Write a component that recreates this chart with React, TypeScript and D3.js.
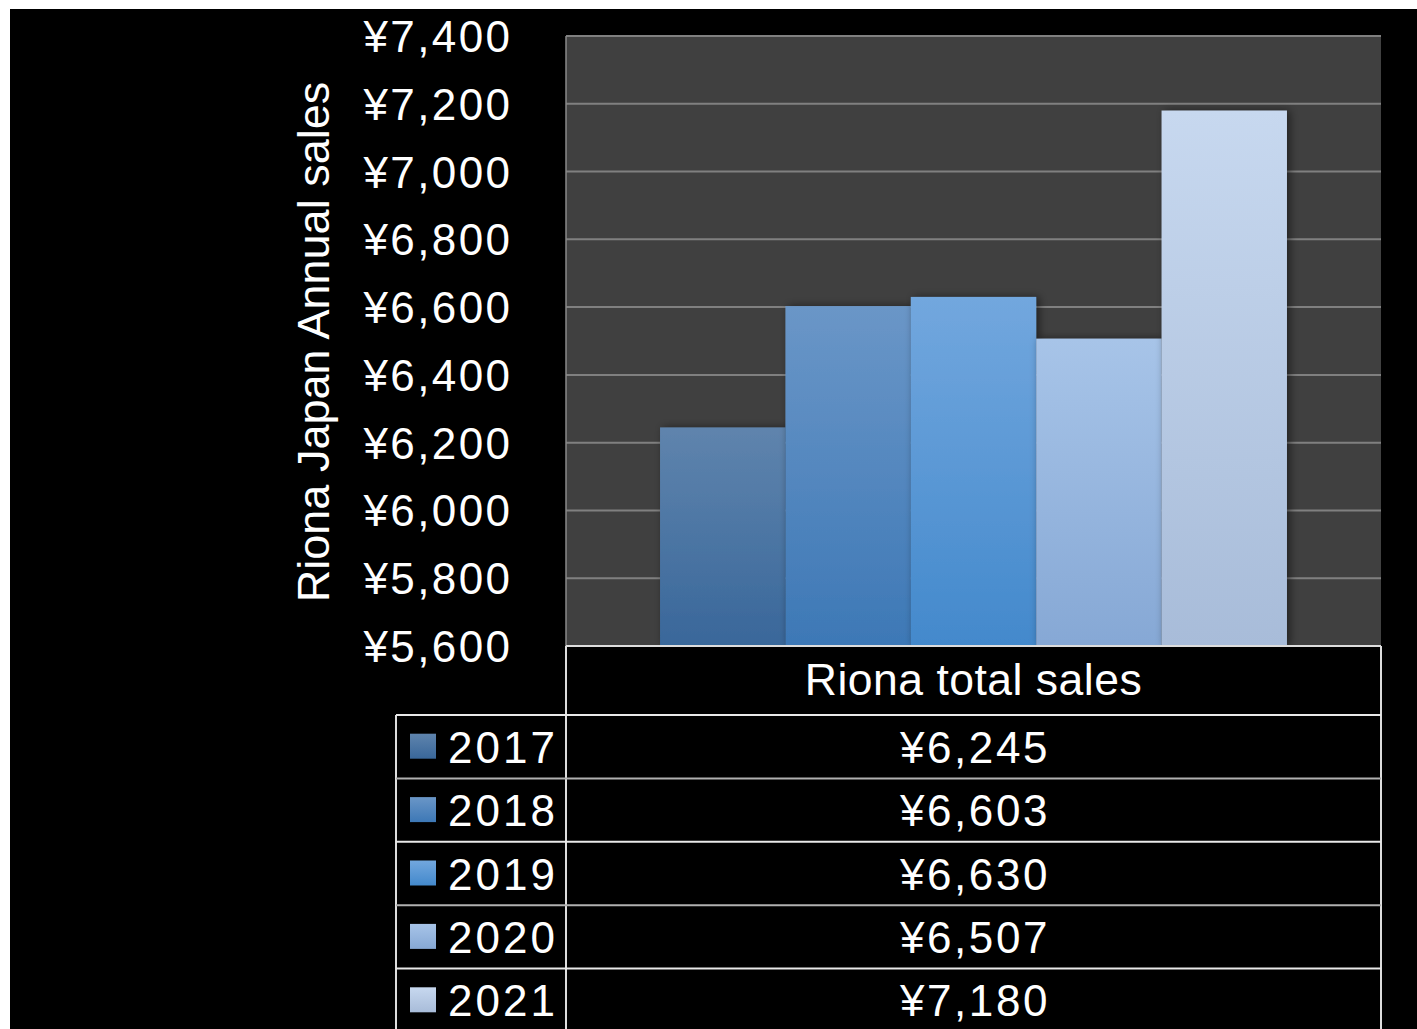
import React from "react";
import * as d3 from "d3";

const years = ["2017", "2018", "2019", "2020", "2021"];
const sales = [6245, 6603, 6630, 6507, 7180];
const yTicks = [5600, 5800, 6000, 6200, 6400, 6600, 6800, 7000, 7200, 7400];
const seriesName = "Riona total sales";
const yTitle = "Riona Japan Annual sales";
const topColors = ["#5f84ad", "#6a96c7", "#72a7de", "#a7c4e8", "#c7d8ef"];
const bottomColors = ["#39679a", "#3d78b6", "#4389cc", "#86a8d5", "#a8bcd9"];

const W = 1417;
const H = 1029;
const plot = { left: 566, right: 1381, top: 36, bottom: 646 };
const tableLeft = 396;
const headerBottom = 715;
const rowH = 63.4;

const fmt = (v: number) => "¥" + d3.format(",")(v);

export default function App() {
  const y = d3.scaleLinear().domain([5600, 7400]).range([plot.bottom, plot.top]);
  const x = d3
    .scaleBand<string>()
    .domain(years)
    .range([plot.left, plot.right])
    .paddingInner(0)
    .paddingOuter(0.75);
  const font = "'Liberation Sans', Arial, sans-serif";
  const midX = (plot.left + plot.right) / 2;

  return (
    <svg
      width={W}
      height={H}
      style={{ position: "absolute", left: 0, top: 0, background: "#fff" }}
    >
      <defs>
        {years.map((yr, i) => (
          <linearGradient key={yr} id={`g${i}`} x1="0" y1="0" x2="0" y2="1">
            <stop offset="0%" stopColor={topColors[i]} />
            <stop offset="100%" stopColor={bottomColors[i]} />
          </linearGradient>
        ))}
        {years.map((yr, i) => (
          <linearGradient
            key={"bar" + yr}
            id={`b${i}`}
            gradientUnits="userSpaceOnUse"
            x1="0"
            y1={y(sales[i])}
            x2="0"
            y2={plot.bottom}
          >
            <stop offset="0%" stopColor={topColors[i]} />
            <stop offset="100%" stopColor={bottomColors[i]} />
          </linearGradient>
        ))}
        <filter id="shadow" x="-20%" y="-5%" width="140%" height="110%">
          <feGaussianBlur in="SourceAlpha" stdDeviation="4" />
          <feOffset dx="3" dy="0" result="b" />
          <feComponentTransfer>
            <feFuncA type="linear" slope="0.5" />
          </feComponentTransfer>
          <feMerge>
            <feMergeNode />
            <feMergeNode in="SourceGraphic" />
          </feMerge>
        </filter>
        <clipPath id="plotclip">
          <rect
            x={plot.left}
            y={plot.top - 2}
            width={plot.right - plot.left}
            height={plot.bottom - plot.top + 2}
          />
        </clipPath>
      </defs>
      <rect x={10} y={9} width={W - 10} height={H - 9} fill="#000" />

      {/* plot area */}
      <rect
        x={plot.left}
        y={plot.top}
        width={plot.right - plot.left}
        height={plot.bottom - plot.top}
        fill="#404040"
      />
      {yTicks.map((t) => (
        <line
          key={t}
          x1={plot.left}
          x2={plot.right}
          y1={y(t)}
          y2={y(t)}
          stroke="#808080"
          strokeWidth={2}
        />
      ))}
      <line
        x1={plot.left}
        x2={plot.left}
        y1={plot.top}
        y2={plot.bottom}
        stroke="#8a8a8a"
        strokeWidth={1.5}
      />
      <g clipPath="url(#plotclip)">
        {years.map((yr, i) => (
          <rect
            key={yr}
            x={x(yr)!}
            y={y(sales[i])}
            width={x.bandwidth()}
            height={plot.bottom - y(sales[i])}
            fill={`url(#b${i})`}
            filter="url(#shadow)"
          />
        ))}
      </g>

      {/* y ticks */}
      {yTicks.map((t) => (
        <text
          key={t}
          x={512.4}
          y={y(t) + 16}
          textAnchor="end"
          fill="#fff"
          fontFamily={font}
          fontSize={44}
          letterSpacing={2.4}
        >
          {fmt(t)}
        </text>
      ))}

      {/* y title */}
      <text
        transform={`translate(329, ${(80 + 604) / 2}) rotate(-90)`}
        textAnchor="middle"
        fill="#fff"
        fontFamily={font}
        fontSize={45}
      >
        {yTitle}
      </text>

      {/* data table */}
      <g fill="none" strokeWidth={2}>
        <line x1={plot.left} x2={plot.right} y1={plot.bottom} y2={plot.bottom} stroke="#ddd" />
        <line x1={plot.left} x2={plot.left} y1={plot.bottom} y2={H} stroke="#ddd" />
        <line x1={plot.right} x2={plot.right} y1={plot.bottom} y2={H} stroke="#ddd" />
        <line x1={tableLeft} x2={tableLeft} y1={headerBottom} y2={H} stroke="#ddd" />
        {years.map((yr, i) => (
          <line
            key={yr}
            x1={tableLeft}
            x2={plot.right}
            y1={headerBottom + i * rowH}
            y2={headerBottom + i * rowH}
            stroke={i % 2 === 0 ? "#e8e8e8" : "#b0b0b0"}
          />
        ))}
      </g>
      <text
        x={midX}
        y={695}
        textAnchor="middle"
        fill="#fff"
        fontFamily={font}
        fontSize={44.5}
        letterSpacing={0.5}
      >
        {seriesName}
      </text>
      {years.map((yr, i) => {
        const cy = headerBottom + i * rowH + rowH / 2;
        return (
          <g key={yr}>
            <rect x={410} y={cy - 13} width={26} height={25} fill={`url(#g${i})`} />
            <text
              x={448}
              y={cy + 16}
              fill="#fff"
              fontFamily={font}
              fontSize={44}
              letterSpacing={3}
            >
              {yr}
            </text>
            <text
              x={midX + 1.5}
              y={cy + 16}
              textAnchor="middle"
              fill="#fff"
              fontFamily={font}
              fontSize={44}
              letterSpacing={2.6}
            >
              {fmt(sales[i])}
            </text>
          </g>
        );
      })}
    </svg>
  );
}
